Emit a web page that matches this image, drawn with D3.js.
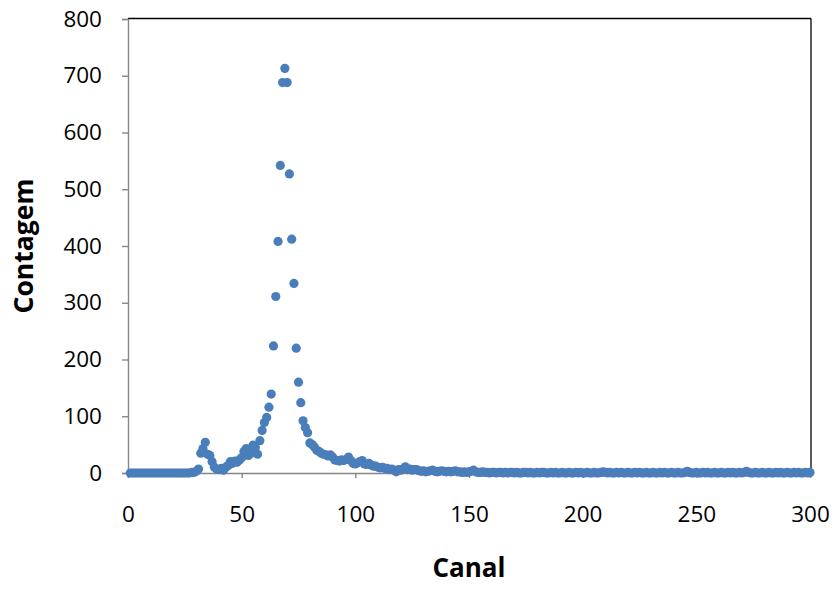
<!DOCTYPE html>
<html>
<head>
<meta charset="utf-8">
<script src="https://cdn.jsdelivr.net/npm/d3@7"></script>
<style>
  html, body { margin: 0; padding: 0; background: #fff; }
  text { font-family: "Open Sans", "Liberation Sans", sans-serif; }
</style>
</head>
<body>
<svg id="chart" width="835" height="590"></svg>
<script>
// Channel numbers 1..300
const channels = d3.range(1, 301);
// Counts, channel 1..300
const counts = [
  0,0,0,0,0,0,0,0,0,0,            // 1-10
  0,0,0,0,0,0,0,0,0,0,            // 11-20
  0,0,0,0,0,0,0,1,1,3,            // 21-30
  7,35,43,54,33,31,20,10,7,6,     // 31-40
  8,5,10,13,20,17,21,19,23,27,    // 41-50
  38,43,31,35,49,45,33,57,75,89,  // 51-60
  98,116,139,224,311,408,542,688,713,688, // 61-70
  527,412,334,220,160,124,92,80,71,53,    // 71-80
  50,46,40,38,35,33,32,30,32,28,  // 81-90
  23,22,21,23,22,24,28,22,17,16,  // 91-100
  18,20,22,16,15,17,14,12,12,10,  // 101-110
  9,10,8,8,6,7,5,2,6,5,           // 111-120
  7,11,6,7,5,6,6,4,3,4,           // 121-130
  2,3,4,5,3,2,3,4,3,2,            // 131-140
  3,2,3,4,2,2,1,2,1,2,            // 141-150
  3,5,2,1,1,2,1,1,0,1,            // 151-160
  1,0,1,1,0,1,0,1,1,0,            // 161-170
  1,0,0,1,1,0,1,0,0,1,            // 171-180
  0,1,1,0,0,1,0,1,0,0,            // 181-190
  1,0,0,1,0,0,1,0,1,0,            // 191-200
  0,1,0,0,1,0,0,1,2,1,            // 201-210
  0,1,0,0,1,0,1,0,0,1,            // 211-220
  0,0,1,0,1,0,0,1,0,0,            // 221-230
  1,0,0,1,0,1,0,0,1,0,            // 231-240
  0,1,0,0,1,3,1,0,0,1,            // 241-250
  0,0,1,0,1,0,0,1,0,0,            // 251-260
  1,0,0,1,0,1,0,0,1,0,            // 261-270
  1,3,1,0,0,1,0,0,1,0,            // 271-280
  0,1,0,0,1,0,1,0,0,1,            // 281-290
  0,0,1,0,1,0,0,1,0,1             // 291-300
];
const xTicks = [0, 50, 100, 150, 200, 250, 300];
const yTicks = [0, 100, 200, 300, 400, 500, 600, 700, 800];
const xTitle = "Canal";
const yTitle = "Contagem";

const data = channels.map((c, i) => ({ x: c, y: counts[i] }));

const svg = d3.select("#chart");
const pLeft = 128, pRight = 810, pTop = 19, pBottom = 473;
const x = d3.scaleLinear().domain([0, 300]).range([pLeft, pRight]);
const y = d3.scaleLinear().domain([0, 800]).range([pBottom, pTop]);

// top and right border (black)
svg.append("line").attr("x1", pLeft).attr("x2", pRight + 1).attr("y1", pTop - 0.5).attr("y2", pTop - 0.5)
  .attr("stroke", "#000").attr("stroke-width", 1.3);
svg.append("line").attr("x1", pRight + 1).attr("x2", pRight + 1).attr("y1", pTop - 0.5).attr("y2", pBottom)
  .attr("stroke", "#000").attr("stroke-width", 1.3);

// y axis
const yAxis = svg.append("g").attr("transform", `translate(${pLeft},0)`)
  .call(d3.axisLeft(y).tickValues(yTicks).tickSize(6).tickPadding(20).tickFormat(d3.format("d")));
// x axis
const xAxis = svg.append("g").attr("transform", `translate(0,${pBottom})`)
  .call(d3.axisBottom(x).tickValues(xTicks).tickSize(5).tickPadding(28).tickFormat(d3.format("d")));

[yAxis, xAxis].forEach(g => {
  g.select(".domain").attr("stroke", "#868686").attr("stroke-width", 1.4);
  g.selectAll(".tick line").attr("stroke", "#868686").attr("stroke-width", 1.4);
  g.selectAll(".tick text").attr("fill", "#000").style("font-size", "22.5px")
    .style("font-family", "'Open Sans', 'Liberation Sans', sans-serif");
});

// points
svg.append("g").selectAll("circle").data(data).join("circle")
  .attr("cx", d => x(d.x)).attr("cy", d => y(d.y)).attr("r", 4.6)
  .attr("fill", "#4A7EBB");

// titles
svg.append("text").attr("x", 469).attr("y", 577).attr("text-anchor", "middle")
  .style("font-size", "26px").style("font-weight", "bold").text(xTitle);
svg.append("text").attr("transform", "translate(33,246) rotate(-90)").attr("text-anchor", "middle")
  .style("font-size", "26.5px").style("font-weight", "bold").text(yTitle);
</script>
</body>
</html>
